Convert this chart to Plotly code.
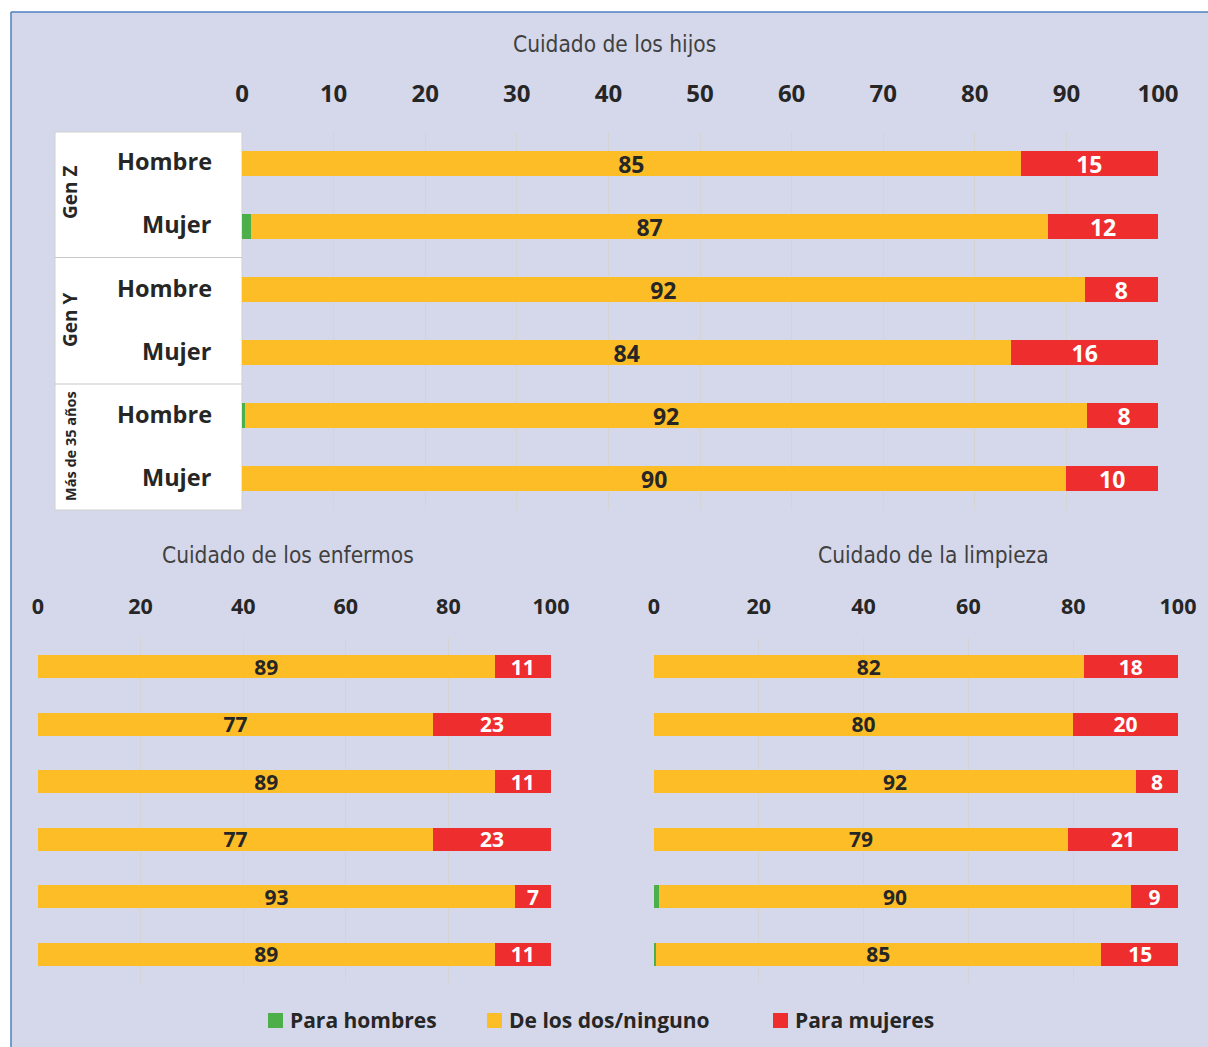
import plotly.graph_objects as go

# ---- data -------------------------------------------------------------
rows = ["Gen Z|Hombre", "Gen Z|Mujer", "Gen Y|Hombre", "Gen Y|Mujer",
        "Más de 35 años|Hombre", "Más de 35 años|Mujer"]
row_labels = ["Hombre", "Mujer", "Hombre", "Mujer", "Hombre", "Mujer"]
groups = ["Gen Z", "Gen Y", "Más de 35 años"]

series_names = ["Para hombres", "De los dos/ninguno", "Para mujeres"]

hijos_hombres = [0, 1, 0, 0, 0.3, 0]
hijos_ambos = [85, 87, 92, 84, 92, 90]
hijos_mujeres = [15, 12, 8, 16, 8, 10]

enfermos_hombres = [0, 0, 0, 0, 0, 0]
enfermos_ambos = [89, 77, 89, 77, 93, 89]
enfermos_mujeres = [11, 23, 11, 23, 7, 11]

limpieza_hombres = [0, 0, 0, 0, 1, 0.3]
limpieza_ambos = [82, 80, 92, 79, 90, 85]
limpieza_mujeres = [18, 20, 8, 21, 9, 15]

titles = ["Cuidado de los hijos", "Cuidado de los enfermos", "Cuidado de la limpieza"]

# ---- style ------------------------------------------------------------
W, H = 1208, 1047
GREEN, YELLOW, RED = "#4DAF4A", "#FDBD26", "#EE2D2F"
BG = "#D5D8EA"
DARK = "#262626"
LABEL_FONT = "Open Sans"
TITLE_FONT = "DejaVu Sans Condensed, Roboto"


def px_x(p):
    return p / W


def px_y(p):
    return 1 - p / H


fig = go.Figure()

panels = [
    ("x", "y", hijos_hombres, hijos_ambos, hijos_mujeres, 23),
    ("x2", "y2", enfermos_hombres, enfermos_ambos, enfermos_mujeres, 21),
    ("x3", "y3", limpieza_hombres, limpieza_ambos, limpieza_mujeres, 21),
]

for xa, ya, h_vals, a_vals, m_vals, fs in panels:
    fig.add_trace(go.Bar(
        y=rows, x=h_vals, orientation="h", name=series_names[0],
        marker=dict(color=GREEN, line=dict(width=0)),
        xaxis=xa, yaxis=ya, showlegend=False, hoverinfo="x+name"))
    fig.add_trace(go.Bar(
        y=rows, x=a_vals, orientation="h", name=series_names[1],
        marker=dict(color=YELLOW, line=dict(width=0)),
        text=a_vals, texttemplate="%{x}", textposition="inside",
        insidetextanchor="middle", textangle=0, constraintext="none",
        textfont=dict(family=LABEL_FONT, size=fs, color=DARK, weight="bold"),
        xaxis=xa, yaxis=ya, showlegend=False, hoverinfo="x+name"))
    fig.add_trace(go.Bar(
        y=rows, x=m_vals, orientation="h", name=series_names[2],
        marker=dict(color=RED, line=dict(width=0)),
        text=m_vals, texttemplate="%{x}", textposition="inside",
        insidetextanchor="middle", textangle=0, constraintext="none",
        textfont=dict(family=LABEL_FONT, size=fs, color="white", weight="bold"),
        xaxis=xa, yaxis=ya, showlegend=False, hoverinfo="x+name"))

xaxis_common = dict(
    range=[0, 100], side="top", showgrid=True, gridcolor="#D4D4D4", gridwidth=1,
    zeroline=False, showline=False, ticks="", fixedrange=True, automargin=False,
)
yaxis_common = dict(
    categoryorder="array", categoryarray=rows, autorange="reversed",
    showticklabels=False, showgrid=False, zeroline=False, showline=False,
    ticks="", fixedrange=True, automargin=False,
)

fig.update_layout(
    width=W, height=H,
    margin=dict(l=0, r=0, t=0, b=0, autoexpand=False),
    paper_bgcolor="white", plot_bgcolor="white",
    barmode="stack", bargap=0.6,
    showlegend=False,
    xaxis=dict(xaxis_common, domain=[px_x(242), px_x(1158)], dtick=10,
               anchor="y", ticklabelstandoff=24,
               tickfont=dict(family=LABEL_FONT, size=24, color=DARK, weight="bold")),
    yaxis=dict(yaxis_common, domain=[px_y(510), px_y(132)], anchor="x"),
    xaxis2=dict(xaxis_common, domain=[px_x(38), px_x(551)], dtick=20,
                anchor="y2", ticklabelstandoff=19,
                tickfont=dict(family=LABEL_FONT, size=21.5, color=DARK, weight="bold")),
    yaxis2=dict(yaxis_common, domain=[px_y(983), px_y(638)], anchor="x2"),
    xaxis3=dict(xaxis_common, domain=[px_x(654), px_x(1178)], dtick=20,
                anchor="y3", ticklabelstandoff=19,
                tickfont=dict(family=LABEL_FONT, size=21.5, color=DARK, weight="bold")),
    yaxis3=dict(yaxis_common, domain=[px_y(983), px_y(638)], anchor="x3"),
)

shapes = [
    # panel background with a blue frame on the left and top
    dict(type="rect", xref="paper", yref="paper", x0=px_x(11), x1=1.01,
         y0=-0.01, y1=px_y(12), fillcolor=BG, line=dict(width=0), layer="below"),
    dict(type="line", xref="paper", yref="paper", x0=px_x(11), x1=1.01,
         y0=px_y(12), y1=px_y(12), line=dict(color="#4F7FBF", width=1.5)),
    dict(type="line", xref="paper", yref="paper", x0=px_x(11), x1=px_x(11),
         y0=-0.01, y1=px_y(12), line=dict(color="#4F7FBF", width=1.5)),
    # label table next to the top chart
    dict(type="rect", xref="paper", yref="paper", x0=px_x(55), x1=px_x(242),
         y0=px_y(510), y1=px_y(132), fillcolor="white",
         line=dict(color="#D0D0D0", width=1), layer="below"),
    dict(type="line", xref="paper", yref="paper", x0=px_x(55), x1=px_x(242),
         y0=px_y(257.5), y1=px_y(257.5), line=dict(color="#C8C8C8", width=1.2)),
    dict(type="line", xref="paper", yref="paper", x0=px_x(55), x1=px_x(242),
         y0=px_y(384), y1=px_y(384), line=dict(color="#C8C8C8", width=1.2)),
]

annotations = []
# chart titles
for text, cx, cy in [(titles[0], 614, 44), (titles[1], 288, 555), (titles[2], 933, 555)]:
    annotations.append(dict(
        text=text, xref="paper", yref="paper", x=px_x(cx), y=px_y(cy),
        xanchor="center", yanchor="middle", showarrow=False,
        font=dict(family=TITLE_FONT, size=22.5, color="#404040")))

# row labels of the top chart
for cat, lab in zip(rows, row_labels):
    annotations.append(dict(
        text=lab, xref="paper", yref="y", x=px_x(214), y=cat,
        xanchor="right", yanchor="middle", showarrow=False, yshift=2,
        font=dict(family=LABEL_FONT, size=23.5, color=DARK, weight="bold")))

# group labels (rotated)
for g, cy, fs in zip(groups, [193, 320, 446], [19, 19, 14.5]):
    annotations.append(dict(
        text=g, xref="paper", yref="paper", x=px_x(70), y=px_y(cy),
        xanchor="center", yanchor="middle", textangle=-90, showarrow=False,
        font=dict(family=LABEL_FONT, size=fs, color=DARK, weight="bold")))

# legend drawn as swatches + text
legend_items = [(series_names[0], GREEN, 268), (series_names[1], YELLOW, 487),
                (series_names[2], RED, 773)]
for name, col, lx in legend_items:
    shapes.append(dict(type="rect", xref="paper", yref="paper",
                       x0=px_x(lx), x1=px_x(lx + 15),
                       y0=px_y(1028), y1=px_y(1013),
                       fillcolor=col, line=dict(width=0)))
    annotations.append(dict(
        text=name, xref="paper", yref="paper", x=px_x(lx + 20), y=px_y(1020),
        xanchor="left", yanchor="middle", showarrow=False,
        font=dict(family=LABEL_FONT, size=21, color=DARK, weight="bold")))

fig.update_layout(shapes=shapes, annotations=annotations)

fig.write_html("out.html")
